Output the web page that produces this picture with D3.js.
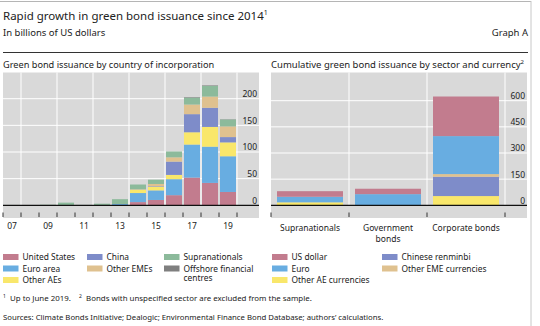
<!DOCTYPE html>
<html>
<head>
<meta charset="utf-8">
<script src="https://cdn.jsdelivr.net/npm/d3@7/dist/d3.min.js"></script>
<style>
  body { margin: 0; background: #fff; }
  svg { display: block; font-family: "Noto Sans", "Open Sans", sans-serif; }
</style>
</head>
<body>
<svg id="chart" width="540" height="326"></svg>
<script>
// ---- Left panel: annual issuance by country of incorporation (USD bn) ----
const years = ["2007","2008","2009","2010","2011","2012","2013","2014","2015","2016","2017","2018","2019"];
const yearTickLabels = ["07","09","11","13","15","17","19"];
const countryNames = ["United States","Euro area","Other AEs","China","Other EMEs","Supranationals","Offshore financial centres"];
const unitedStates  = [0,   0,   0, 0,   0,   0,   0,   6,  10, 19, 52, 42, 25];
const euroArea      = [0,   0,   0, 0,   0,   0,   2.5, 17, 18, 30, 62, 68, 67];
const otherAEs      = [0,   0,   0, 0,   0,   0,   0,   6,  7,  8,  23, 37, 26];
const china         = [0,   0,   0, 0,   0,   0,   0,   0,  1,  25, 34, 36, 10];
const otherEMEs     = [0,   0,   0, 0,   0,   0,   0,   1,  4,  8,  18, 21, 20];
const supranationals= [0.6, 0.3, 1, 5,   0.7, 3,   9,   9,  8,  11, 13, 20, 13];
const offshore      = [0,   0,   0, 0,   0,   0,   0,   0,  0,  0,  1,  1,  0.5];
const leftTicks = [0, 50, 100, 150, 200];

// ---- Right panel: cumulative issuance by sector and currency (USD bn) ----
const sectors = ["Supranationals", "Government bonds", "Corporate bonds"];
const currencyNames = ["Other AE currencies","Chinese renminbi","Other EME currencies","Euro","US dollar"];
const otherAECurrencies  = [17, 1, 53];
const chineseRenminbi    = [0, 0, 111];
const otherEMECurrencies = [0, 0, 15];
const euroCurrency       = [32, 63, 218];
const usDollar           = [32, 31, 227];
const rightTicks = [0, 150, 300, 450, 600];

const colors = {
  "United States": "#c27c8e", "US dollar": "#c27c8e",
  "Euro area": "#68ade1", "Euro": "#68ade1",
  "Other AEs": "#f9e76b", "Other AE currencies": "#f9e76b",
  "China": "#7e8cc9", "Chinese renminbi": "#7e8cc9",
  "Other EMEs": "#dfc18f", "Other EME currencies": "#dfc18f",
  "Supranationals": "#8cba9b",
  "Offshore financial centres": "#7f7f7f"
};

const svg = d3.select("#chart");
const panelBg = "#d9d9d9";
const textColor = "#222";

// ---- Header ----
svg.append("line").attr("x1", 0).attr("x2", 531).attr("y1", 1.5).attr("y2", 1.5)
  .attr("stroke", "#b5b5b5").attr("stroke-width", 1);
svg.append("line").attr("x1", 531).attr("x2", 531).attr("y1", 1).attr("y2", 326)
  .attr("stroke", "#c8c8c8").attr("stroke-width", 1);
const title = svg.append("text").attr("x", 3).attr("y", 20)
  .attr("font-size", 11.5).attr("fill", textColor);
title.append("tspan").text("Rapid growth in green bond issuance since 2014");
title.append("tspan").attr("dy", -5).attr("font-size", 7).text("1");
svg.append("text").attr("x", 3).attr("y", 36).attr("font-size", 9.5)
  .attr("fill", textColor).text("In billions of US dollars");
svg.append("text").attr("x", 528).attr("y", 36).attr("font-size", 9.5)
  .attr("text-anchor", "end").attr("fill", textColor).text("Graph A");
svg.append("line").attr("x1", 3).attr("x2", 528).attr("y1", 52.5).attr("y2", 52.5)
  .attr("stroke", "#333").attr("stroke-width", 1);

const plotTop = 72.5, plotBottom = 218;

// ---- Left panel ----
const lx = d3.scaleBand().domain(years).range([3, 237]).paddingInner(0.11).paddingOuter(0.055);
const ly = d3.scaleLinear().domain([0, 200]).range([205.3, 98.7]);
const step = lx.step();
const leftX0 = 3, leftX1 = 259;

svg.append("text").attr("x", 3).attr("y", 68).attr("font-size", 9.2)
  .attr("fill", textColor).text("Green bond issuance by country of incorporation");

svg.append("rect").attr("x", leftX0).attr("y", plotTop)
  .attr("width", leftX1 - leftX0).attr("height", plotBottom - plotTop).attr("fill", panelBg);

// vertical gridlines every second year boundary
const boundaries = d3.range(years.length + 1).map(i => lx.range()[0] + i * step);
svg.append("g").selectAll("line").data(boundaries.filter((d, i) => i % 2 === 1)).join("line")
  .attr("x1", d => d).attr("x2", d => d).attr("y1", plotTop).attr("y2", ly(0))
  .attr("stroke", "#fff").attr("stroke-width", 1);
// horizontal gridlines
svg.append("g").selectAll("line").data(leftTicks.filter(d => d > 0)).join("line")
  .attr("x1", leftX0).attr("x2", leftX1).attr("y1", d => ly(d)).attr("y2", d => ly(d))
  .attr("stroke", "#fff").attr("stroke-width", 1);

const countryRows = years.map((y, i) => ({
  year: y,
  "United States": unitedStates[i], "Euro area": euroArea[i], "Other AEs": otherAEs[i],
  "China": china[i], "Other EMEs": otherEMEs[i], "Supranationals": supranationals[i],
  "Offshore financial centres": offshore[i]
}));
const leftStack = d3.stack().keys(countryNames)(countryRows);
svg.append("g").selectAll("g").data(leftStack).join("g")
  .attr("fill", d => colors[d.key])
  .selectAll("rect").data(d => d).join("rect")
  .attr("x", d => lx(d.data.year)).attr("width", lx.bandwidth())
  .attr("y", d => ly(d[1])).attr("height", d => ly(d[0]) - ly(d[1]));

// baseline
svg.append("line").attr("x1", leftX0).attr("x2", leftX1).attr("y1", ly(0)).attr("y2", ly(0))
  .attr("stroke", "#111").attr("stroke-width", 1.2);
// category ticks at year boundaries
svg.append("g").selectAll("line").data(boundaries).join("line")
  .attr("x1", d => d).attr("x2", d => d).attr("y1", 212.5).attr("y2", 217)
  .attr("stroke", "#333").attr("stroke-width", 1);
// year labels
const yearLabelAxis = d3.axisBottom(lx)
  .tickValues(years.filter((d, i) => i % 2 === 0))
  .tickFormat(d => d.slice(2)).tickSize(0).tickPadding(0);
const gxl = svg.append("g").attr("transform", `translate(0,${plotBottom + 5})`).call(yearLabelAxis);
gxl.select(".domain").remove();
gxl.selectAll("text").attr("font-size", 8.5).attr("fill", textColor)
  .attr("font-family", "\"Noto Sans\", sans-serif");
// value labels
const lyAxis = d3.axisRight(ly).tickValues(leftTicks).tickSize(0).tickPadding(0);
const gyl = svg.append("g").attr("transform", `translate(257,0)`).call(lyAxis);
gyl.select(".domain").remove();
gyl.selectAll("text").attr("text-anchor", "end").attr("dy", "-0.25em")
  .attr("font-size", 8.5).attr("fill", textColor).attr("font-family", "\"Noto Sans\", sans-serif");

// ---- Right panel ----
const rx = d3.scaleBand().domain(sectors).range([271, 505]).paddingInner(0.154).paddingOuter(0.077);
const ry = d3.scaleLinear().domain([0, 600]).range([205.3, 100.7]);
const rightX0 = 271, rightX1 = 527;
const rStep = rx.step();

const rTitle = svg.append("text").attr("x", 271).attr("y", 68).attr("font-size", 9.5).attr("fill", textColor);
rTitle.append("tspan").text("Cumulative green bond issuance by sector and currency");
rTitle.append("tspan").attr("dy", -4).attr("font-size", 6).text("2");

svg.append("rect").attr("x", rightX0).attr("y", plotTop)
  .attr("width", rightX1 - rightX0).attr("height", plotBottom - plotTop).attr("fill", panelBg);

const rBoundaries = d3.range(sectors.length + 1).map(i => rx.range()[0] + i * rStep);
svg.append("g").selectAll("line").data(rBoundaries.slice(1)).join("line")
  .attr("x1", d => d).attr("x2", d => d).attr("y1", plotTop).attr("y2", ry(0))
  .attr("stroke", "#fff").attr("stroke-width", 1);
svg.append("g").selectAll("line").data(rightTicks.filter(d => d > 0)).join("line")
  .attr("x1", rightX0).attr("x2", rightX1).attr("y1", d => ry(d)).attr("y2", d => ry(d))
  .attr("stroke", "#fff").attr("stroke-width", 1);

const sectorRows = sectors.map((s, i) => ({
  sector: s,
  "Other AE currencies": otherAECurrencies[i], "Chinese renminbi": chineseRenminbi[i],
  "Other EME currencies": otherEMECurrencies[i], "Euro": euroCurrency[i], "US dollar": usDollar[i]
}));
const rightStack = d3.stack().keys(currencyNames)(sectorRows);
svg.append("g").selectAll("g").data(rightStack).join("g")
  .attr("fill", d => colors[d.key])
  .selectAll("rect").data(d => d).join("rect")
  .attr("x", d => rx(d.data.sector)).attr("width", rx.bandwidth())
  .attr("y", d => ry(d[1])).attr("height", d => ry(d[0]) - ry(d[1]));

svg.append("line").attr("x1", rightX0).attr("x2", rightX1).attr("y1", ry(0)).attr("y2", ry(0))
  .attr("stroke", "#111").attr("stroke-width", 1.2);
svg.append("g").selectAll("line").data(rBoundaries).join("line")
  .attr("x1", d => d).attr("x2", d => d).attr("y1", 212.5).attr("y2", 217)
  .attr("stroke", "#333").attr("stroke-width", 1);

// sector labels (Government bonds wraps onto two lines)
const sectorLines = { "Supranationals": ["Supranationals"], "Government bonds": ["Government", "bonds"], "Corporate bonds": ["Corporate bonds"] };
const sl = svg.append("g").selectAll("text").data(sectors).join("text")
  .attr("x", d => rx(d) + rx.bandwidth() / 2).attr("y", 230.5)
  .attr("text-anchor", "middle").attr("font-size", 8.5).attr("fill", textColor);
sl.selectAll("tspan").data(d => sectorLines[d]).join("tspan")
  .attr("x", function() { return d3.select(this.parentNode).attr("x"); })
  .attr("dy", (d, i) => i === 0 ? 0 : 11).text(d => d);

const ryAxis = d3.axisRight(ry).tickValues(rightTicks).tickSize(0).tickPadding(0);
const gyr = svg.append("g").attr("transform", `translate(525,0)`).call(ryAxis);
gyr.select(".domain").remove();
gyr.selectAll("text").attr("text-anchor", "end").attr("dy", "-0.25em")
  .attr("font-size", 8.5).attr("fill", textColor).attr("font-family", "\"Noto Sans\", sans-serif");

// ---- Legends ----
const legendRows = [257, 268.5, 280];
const leftLegend = [
  { name: "United States", col: 0, row: 0 }, { name: "Euro area", col: 0, row: 1 }, { name: "Other AEs", col: 0, row: 2 },
  { name: "China", col: 1, row: 0 }, { name: "Other EMEs", col: 1, row: 1 },
  { name: "Supranationals", col: 2, row: 0 }, { name: "Offshore financial centres", col: 2, row: 1, lines: ["Offshore financial", "centres"] }
];
const rightLegend = [
  { name: "US dollar", col: 3, row: 0 }, { name: "Euro", col: 3, row: 1 }, { name: "Other AE currencies", col: 3, row: 2 },
  { name: "Chinese renminbi", col: 4, row: 0 }, { name: "Other EME currencies", col: 4, row: 1 }
];
const colX = [3, 87, 164, 272, 382];
const legend = svg.append("g").selectAll("g").data(leftLegend.concat(rightLegend)).join("g")
  .attr("transform", d => `translate(${colX[d.col]},${legendRows[d.row]})`);
legend.append("rect").attr("x", 0).attr("y", -3).attr("width", 15.5).attr("height", 6)
  .attr("fill", d => colors[d.name]);
const lt = legend.append("text").attr("x", 19.5).attr("y", 3).attr("font-size", 8.4).attr("fill", textColor);
lt.selectAll("tspan").data(d => d.lines || [d.name]).join("tspan")
  .attr("x", 19.5).attr("dy", (d, i) => i === 0 ? 0 : 9.5).text(d => d);

// ---- Footnotes ----
const fn = svg.append("text").attr("x", 3).attr("y", 301).attr("font-size", 7.9).attr("fill", textColor);
fn.attr("xml:space", "preserve");
fn.append("tspan").attr("font-size", 5).attr("dy", -3).text("1");
fn.append("tspan").attr("dy", 3).text("  Up to June 2019.    ");
fn.append("tspan").attr("font-size", 5).attr("dy", -3).text("2");
fn.append("tspan").attr("dy", 3).text("  Bonds with unspecified sector are excluded from the sample.");
svg.append("text").attr("x", 3).attr("y", 319.5).attr("font-size", 7.75).attr("fill", textColor)
  .text("Sources: Climate Bonds Initiative; Dealogic; Environmental Finance Bond Database; authors’ calculations.");
</script>
</body>
</html>
